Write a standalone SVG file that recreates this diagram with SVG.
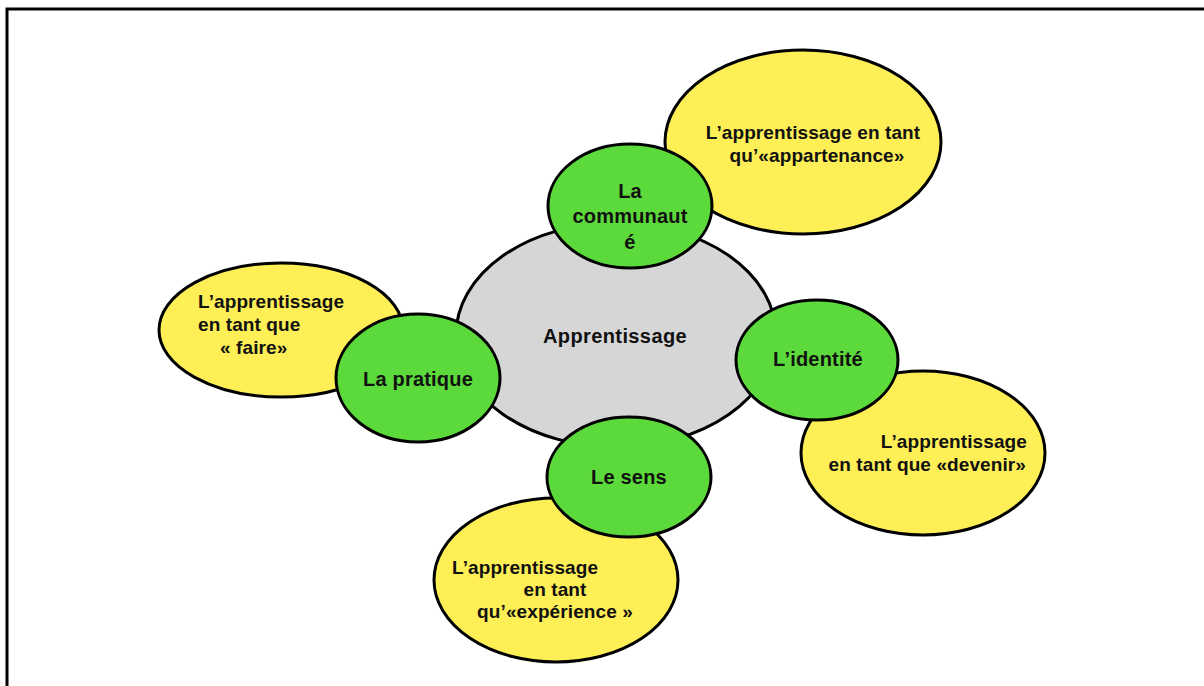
<svg xmlns="http://www.w3.org/2000/svg" width="1204" height="686" viewBox="0 0 1204 686">
<style>
.sh{stroke:#000;stroke-width:3}
.gray{fill:#D6D6D6}
.yel{fill:#FEEF57}
.grn{fill:#5CD93B}
text{font-family:"Liberation Sans",Arial,sans-serif;font-weight:bold;fill:#111}
.t17{font-size:19px;letter-spacing:0.1px}
.t18{font-size:20px;letter-spacing:0.2px}
</style>
<rect width="1204" height="686" fill="#fff"/>
<path d="M7,686 V9 H1204" fill="none" stroke="#000" stroke-width="3"/>
<g id="connectors"></g>
<g id="apprentissage">
<ellipse class="sh gray" cx="616" cy="335" rx="160" ry="112"/>
<text class="t18" x="615" y="343" text-anchor="middle" style="letter-spacing:0.4px">Apprentissage</text>
</g>
<g id="appartenance">
<ellipse class="sh yel" cx="803" cy="142" rx="138" ry="92"/>
<text class="t17" x="813" y="139" text-anchor="middle">L’apprentissage en tant</text>
<text class="t17" x="817" y="162" text-anchor="middle">qu’«appartenance»</text>
</g>
<g id="faire">
<ellipse class="sh yel" cx="281" cy="330" rx="122" ry="67"/>
<text class="t17" x="198" y="308">L’apprentissage</text>
<text class="t17" x="198" y="331">en tant que</text>
<text class="t17" x="220" y="354">« faire»</text>
</g>
<g id="devenir">
<ellipse class="sh yel" cx="923" cy="453" rx="122" ry="82"/>
<text class="t17" x="1027" y="448" text-anchor="end">L’apprentissage</text>
<text class="t17" x="1026" y="471" text-anchor="end">en tant que «devenir»</text>
</g>
<g id="experience">
<ellipse class="sh yel" cx="556" cy="580" rx="122" ry="82"/>
<text class="t17" x="452" y="574">L’apprentissage</text>
<text class="t17" x="555" y="596" text-anchor="middle">en tant</text>
<text class="t17" x="555" y="618" text-anchor="middle">qu’«expérience »</text>
</g>
<g id="communaute">
<ellipse class="sh grn" cx="630" cy="206" rx="82" ry="62"/>
<text class="t18" x="630" y="198" text-anchor="middle">La</text>
<text class="t18" x="630" y="223" text-anchor="middle">communaut</text>
<text class="t18" x="630" y="249" text-anchor="middle">é</text>
</g>
<g id="pratique">
<ellipse class="sh grn" cx="418" cy="378" rx="82" ry="64"/>
<text class="t18" x="418" y="386" text-anchor="middle">La pratique</text>
</g>
<g id="identite">
<ellipse class="sh grn" cx="817" cy="360" rx="81" ry="60"/>
<text class="t18" x="818" y="366" text-anchor="middle">L’identité</text>
</g>
<g id="sens">
<ellipse class="sh grn" cx="629" cy="477" rx="82" ry="60"/>
<text class="t18" x="629" y="484" text-anchor="middle">Le sens</text>
</g>
</svg>
